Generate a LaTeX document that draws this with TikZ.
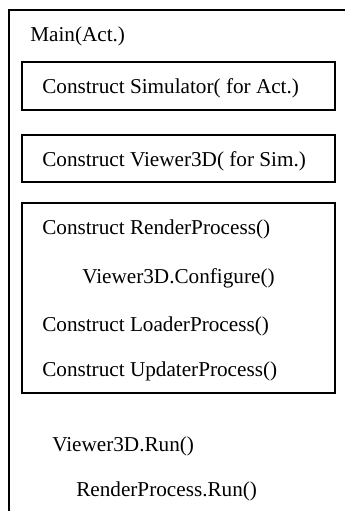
\documentclass[tikz,border=0pt]{standalone}
\usepackage{fontspec}
\setmainfont{Liberation Serif}

\begin{document}
\begin{tikzpicture}[
  x=0.75pt, y=-0.75pt,
  font=\fontsize{15.9}{18}\selectfont,
  outerframe/.style={draw=black, line width=1.6pt},
  callbox/.style={draw=black, line width=1.2pt},
  calltext/.style={anchor=base west, inner sep=0pt}
]
\useasboundingbox (0,0) rectangle (345,511);
\clip (0,0) rectangle (345,511);

\draw[outerframe] (9,10) rectangle (370,540);
\node[calltext] (main) at (30,41) {Main(Act.)};

\draw[callbox] (22,62) rectangle (335,110);
\node[calltext] (sim) at (42,93) {Construct Simulator( for Act.)};

\draw[callbox] (22,135) rectangle (335,182);
\node[calltext] (viewer) at (42,166) {Construct Viewer3D( for Sim.)};

\draw[callbox] (22,203) rectangle (335,393);
\node[calltext] (render) at (42,234) {Construct RenderProcess()};
\node[calltext] (config) at (82,283) {Viewer3D.Configure()};
\node[calltext] (loader) at (42,331) {Construct LoaderProcess()};
\node[calltext] (updater) at (42,376) {Construct UpdaterProcess()};

\node[calltext] (vrun) at (52,451) {Viewer3D.Run()};
\node[calltext] (rrun) at (76,496) {RenderProcess.Run()};
\end{tikzpicture}
\end{document}
